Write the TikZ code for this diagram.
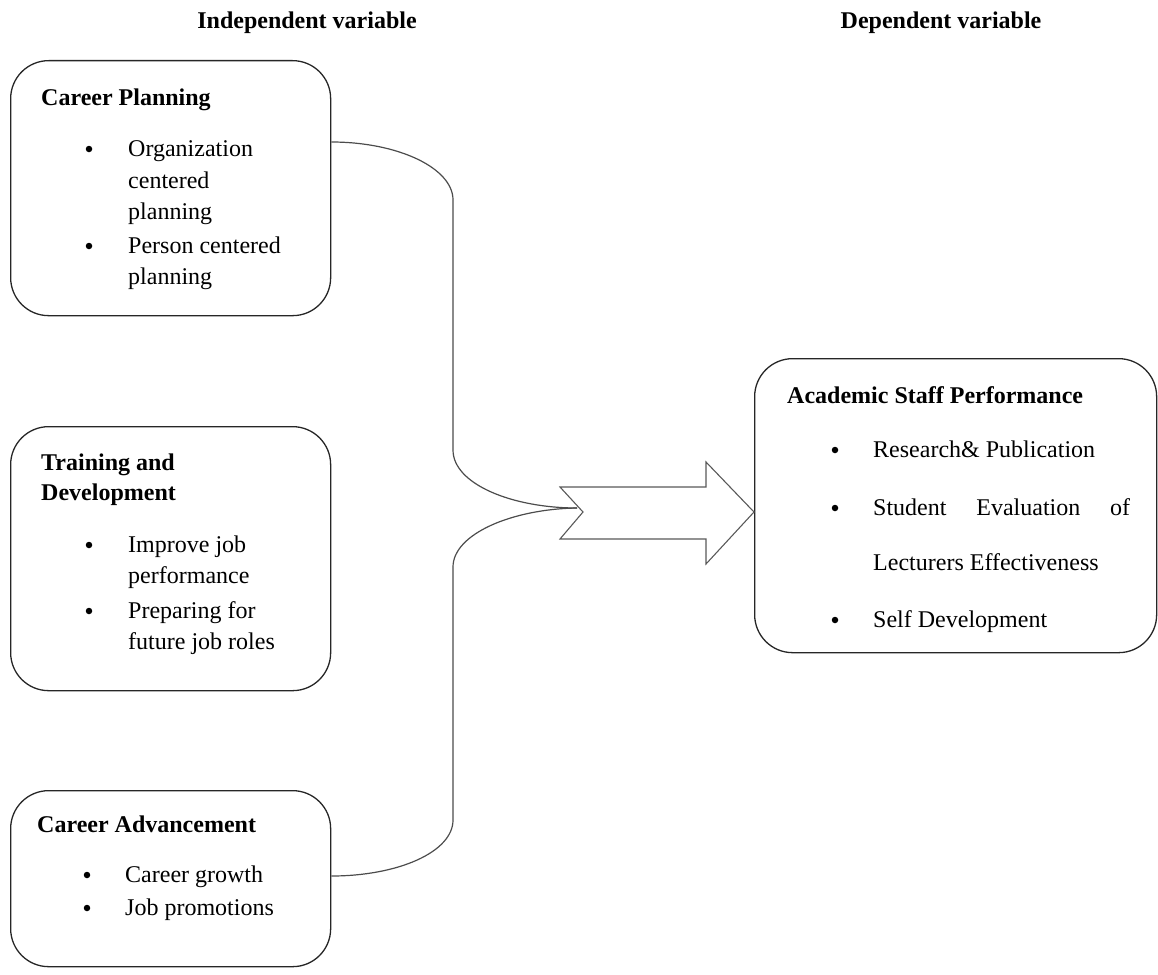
\documentclass[tikz,border=0pt]{standalone}
\usepackage{fontspec}
\setmainfont{Liberation Serif}
\begin{document}
\begin{tikzpicture}[x=1pt,y=-1pt,
  box/.style={draw=black!85, line width=1.3pt, rounded corners=38pt, inner sep=0pt, anchor=north west},
  conn/.style={draw=black!70, line width=1.2pt},
  bigarrow/.style={draw=black!65, line width=1.1pt, fill=white},
  txt/.style={anchor=base west, inner sep=0pt, font=\fontsize{24}{29}\selectfont},
  ttl/.style={anchor=base west, inner sep=0pt, font=\fontsize{24}{29}\selectfont\bfseries},
  hdr/.style={anchor=base, inner sep=0pt, font=\fontsize{24}{29}\selectfont\bfseries},
  bul/.style={circle, fill=black, inner sep=0pt, minimum size=6.5pt}]
\useasboundingbox (0,0) rectangle (1158,974);

% headers
\node[hdr] (h1) at (307,29) {Independent variable};
\node[hdr] (h2) at (941,29) {Dependent variable};

% boxes
\node[box, minimum width=320pt, minimum height=255pt] (cp) at (10,60) {};
\node[box, minimum width=320pt, minimum height=264pt] (td) at (10,426) {};
\node[box, minimum width=320pt, minimum height=176pt] (ca) at (10,790) {};
\node[box, minimum width=402pt, minimum height=294pt] (asp) at (754,358) {};

% box 1 text
\node[ttl] (t1) at (41,105) {Career Planning};
\node[bul] (b11) at (89,149) {};
\node[txt] (l11) at (128,156) {Organization};
\node[txt] (l12) at (128,188) {centered};
\node[txt] (l13) at (128,219) {planning};
\node[bul] (b12) at (89,246) {};
\node[txt] (l14) at (128,253) {Person centered};
\node[txt] (l15) at (128,284) {planning};

% box 2 text
\node[ttl] (t2) at (41,470) {Training and};
\node[ttl] (t2b) at (41,500) {Development};
\node[bul] (b21) at (89,545) {};
\node[txt] (l21) at (128,552) {Improve job};
\node[txt] (l22) at (128,583) {performance};
\node[bul] (b22) at (89,611) {};
\node[txt] (l23) at (128,618) {Preparing for};
\node[txt] (l24) at (128,649) {future job roles};

% box 3 text
\node[ttl] (t3) at (37,832) {Career Advancement};
\node[bul] (b31) at (87,875) {};
\node[txt] (l31) at (125,882) {Career growth};
\node[bul] (b32) at (87,908) {};
\node[txt] (l32) at (125,915) {Job promotions};

% box 4 text
\node[ttl] (t4) at (787,403) {Academic Staff Performance};
\node[bul] (b41) at (835,450) {};
\node[txt] (l41) at (873,457) {Research\& Publication};
\node[bul] (b42) at (835,508) {};
\node[txt] (l42) at (873,515) {\makebox[257pt][s]{Student\hfill Evaluation\hfill of}};
\node[txt] (l43) at (873,570) {Lecturers Effectiveness};
\node[bul] (b43) at (835,620) {};
\node[txt] (l44) at (873,627) {Self Development};

% brace connector
\coordinate (s1) at (cp.east |- 0,142);
\coordinate (s3) at (ca.east |- 0,876);
\coordinate (tip) at (577,508);
\draw[conn] (s1) .. controls (398,142) and (453,168) .. (453,200)
  -- (453,450) .. controls (453,484) and (512,508) .. (tip);
\draw[conn] (s3) .. controls (398,876) and (453,852) .. (453,820)
  -- (453,567) .. controls (453,534) and (512,509) .. (tip);

% big arrow
\draw[bigarrow] (560,487) -- (706,487) -- (706,462) -- (asp.west |- 0,512)
  -- (706,564) -- (706,539) -- (560,539) -- (583,512) -- cycle;
\end{tikzpicture}
\end{document}
